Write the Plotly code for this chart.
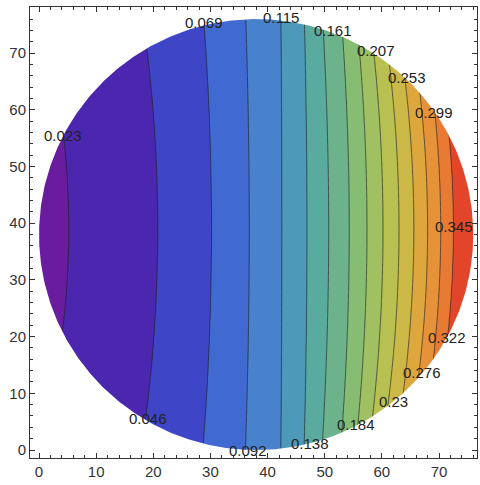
import numpy as np
import plotly.graph_objects as go

# contour levels (as labelled)
levels = [0.023, 0.046, 0.069, 0.092, 0.115, 0.138, 0.161, 0.184,
          0.207, 0.23, 0.253, 0.276, 0.299, 0.322, 0.345]
# x position where each level crosses the middle row of the disk
cross_x_mid = [5.2, 20.8, 30.2, 36.8, 42.5, 46.9, 50.7, 54.3,
               57.4, 60.2, 63.0, 65.6, 68.0, 70.3, 72.5]
# how far (in x) each contour bows left 30 units above/below the middle row
bow_at_30 = [3.0, 1.7, 0.9, 0.4, 0.1, 0.3, 0.7, 0.9,
             1.2, 1.5, 1.8, 2.0, 2.1, 2.2, 2.5]
# value below first / above last level (outer anchors)
outer_x = [-10.0, 90.0]
outer_val = [0.0, 0.45]
mid_row_y = 39.0

# disk domain
disk_cx, disk_cy, disk_r = 38.0, 38.0, 38.0

# label texts and where they sit
label_text = ["0.023", "0.046", "0.069", "0.092", "0.115", "0.138", "0.161", "0.184",
              "0.207", "0.23", "0.253", "0.276", "0.299", "0.322", "0.345"]
label_x = [4.2, 19.0, 28.8, 36.6, 42.4, 47.5, 51.5, 55.5, 58.9, 62.0, 64.4, 67.0, 69.1, 71.4, 72.7]
label_y = [55.4, 5.5, 75.4, 0.0, 76.3, 1.2, 73.9, 4.5, 70.4, 8.5, 65.7, 13.7, 59.5, 19.8, 39.5]

band_colors = ["#6A1C9F", "#4B27AF", "#3E45C7", "#4069D2", "#4881CC", "#4C99BA",
               "#59AA9F", "#6CB38C", "#87BC73", "#A0C062", "#B7C051", "#CCB846",
               "#DEA73E", "#E69239", "#E87A34", "#E2452A"]

x_ticks = [0, 10, 20, 30, 40, 50, 60, 70]
y_ticks = [0, 10, 20, 30, 40, 50, 60, 70]

# ---- field built from the read contour crossings ----
xs = np.linspace(-2, 78, 401)
ys = np.linspace(-2, 79, 401)
cx = np.array(cross_x_mid)
bw = np.array(bow_at_30)
Z = np.empty((len(ys), len(xs)))
for i, y in enumerate(ys):
    xl = cx - bw * ((y - mid_row_y) / 30.0) ** 2
    px = np.concatenate([[outer_x[0]], xl, [outer_x[1]]])
    pv = np.concatenate([[outer_val[0]], levels, [outer_val[1]]])
    Z[i] = np.interp(xs, px, pv)

n = len(band_colors)
colorscale = [[k / (n - 1), c] for k, c in enumerate(band_colors)]

fig = go.Figure()
fig.add_trace(go.Contour(
    x=xs, y=ys, z=Z,
    autocontour=False,
    contours=dict(start=levels[0], end=levels[-1], size=0.023, coloring="fill"),
    colorscale=colorscale,
    showscale=False,
    line=dict(color="rgba(30,30,30,0.65)", width=1),
    hoverinfo="skip",
))

# white mask outside the disk (keyhole polygon: frame clockwise, circle counter-clockwise)
t = np.linspace(0, 2 * np.pi, 721)
circ_x = disk_cx + disk_r * np.sin(t)
circ_y = disk_cy - disk_r * np.cos(t)
mx = [disk_cx, -20, -20, 100, 100, disk_cx] + list(circ_x) + [disk_cx]
my = [-20, -20, 100, 100, -20, -20] + list(circ_y) + [-20]
fig.add_trace(go.Scatter(x=mx, y=my, mode="lines", fill="toself",
                         fillcolor="white", line=dict(width=0, color="white"),
                         hoverinfo="skip", showlegend=False))

for txt, lx, ly in zip(label_text, label_x, label_y):
    fig.add_annotation(x=lx, y=ly, text=txt, showarrow=False,
                       xanchor="center", yanchor="middle",
                       font=dict(family="Liberation Sans, Arial, sans-serif",
                                 size=15, color="#222"))

axis_common = dict(
    ticks="inside", ticklen=5, tickwidth=1, tickcolor="#333",
    showline=True, linecolor="#333", linewidth=1, mirror="ticks",
    showgrid=False, zeroline=False, automargin=False,
    minor=dict(dtick=2, ticks="inside", ticklen=3, tickcolor="#333", showgrid=False),
    tickfont=dict(family="Liberation Sans, Arial, sans-serif",
                  size=15, color="#333"),
)
fig.update_xaxes(range=[-1.58, 76.65], tickvals=x_ticks, **axis_common)
fig.update_yaxes(range=[-1.41, 78.13], tickvals=y_ticks, **axis_common)

fig.update_layout(width=480, height=485,
                  margin=dict(l=30, r=3, t=7, b=27, autoexpand=False),
                  paper_bgcolor="white", plot_bgcolor="white", showlegend=False)

fig.write_html("out.html", config={"displayModeBar": False},
               post_script="document.body.style.margin='0';")
